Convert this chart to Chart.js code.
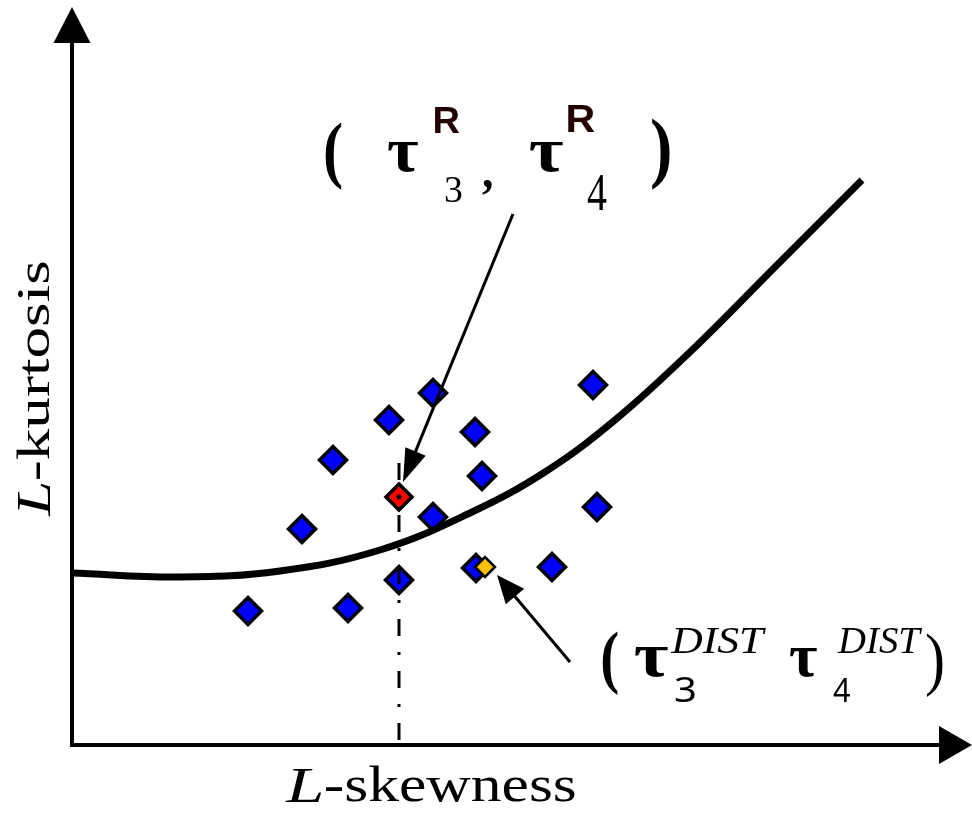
<!DOCTYPE html>
<html>
<head>
<meta charset="utf-8">
<script src="https://cdn.jsdelivr.net/npm/chart.js@4.4.1/dist/chart.umd.min.js"></script>
<style>
    html, body { margin: 0; padding: 0; background: #fff; }
    canvas { display: block; }
</style>
</head>
<body>
<canvas id="chart-lmoments" width="972" height="813"></canvas>
<script>
// sample L-moment ratios (schematic units, origin at the axes corner)
const sampleSkew = [17.6, 27.6, 32.7, 40.4, 48.0, 23.0, 36.1, 52.5, 26.1, 41.0, 31.7, 40.3, 36.1, 52.1];
const sampleKurt = [13.4, 13.7, 16.5, 17.7, 17.8, 21.6, 22.8, 23.8, 28.5, 26.9, 32.5, 31.3, 35.2, 36.0];
// regional average (tau3^R, tau4^R)
const regionalSkew = [32.7];
const regionalKurt = [24.8];
// candidate distribution point (tau3^DIST, tau4^DIST)
const distSkew = [41.3];
const distKurt = [17.8];
// theoretical L-skewness / L-kurtosis curve
const curveSkew = [0, 10.8, 20.8, 30.8, 39.8, 47.3, 54.3, 61.8, 70.3, 79.0];
const curveKurt = [17.2, 16.8, 17.4, 19.5, 23.2, 27.3, 32.5, 39.3, 47.8, 56.5];

const xTitle = ['L', '-skewness'];
const yTitle = ['L', '-kurtosis'];

const toPoints = (xs, ys) => xs.map((x, i) => ({ x: x, y: ys[i] }));

const colors = {
    ink: '#000',
    sample: '#0000ff',
    regional: '#ff0000',
    dist: '#ffc000',
    sup: '#220000'
};

const serif = '"Liberation Serif", "Times New Roman", serif';

// draw text so its ink fills the given box
function drawBox(ctx, text, font, x0, y0, x1, y1, color) {
    ctx.font = font;
    ctx.textAlign = 'left';
    ctx.textBaseline = 'alphabetic';
    const m = ctx.measureText(text);
    const w = m.actualBoundingBoxLeft + m.actualBoundingBoxRight;
    const h = m.actualBoundingBoxAscent + m.actualBoundingBoxDescent;
    ctx.save();
    ctx.fillStyle = color || colors.ink;
    ctx.translate(x0, y0);
    ctx.scale((x1 - x0) / w, (y1 - y0) / h);
    ctx.fillText(text, m.actualBoundingBoxLeft, m.actualBoundingBoxAscent);
    ctx.restore();
}

function arrow(ctx, x0, y0, x1, y1, headLen, headW, lineW) {
    const a = Math.atan2(y1 - y0, x1 - x0);
    const bx = x1 - Math.cos(a) * headLen;
    const by = y1 - Math.sin(a) * headLen;
    ctx.save();
    ctx.strokeStyle = colors.ink;
    ctx.fillStyle = colors.ink;
    ctx.lineWidth = lineW;
    ctx.beginPath();
    ctx.moveTo(x0, y0);
    ctx.lineTo(bx + Math.cos(a), by + Math.sin(a));
    ctx.stroke();
    ctx.beginPath();
    ctx.moveTo(x1, y1);
    ctx.lineTo(bx - Math.sin(a) * headW / 2, by + Math.cos(a) * headW / 2);
    ctx.lineTo(bx + Math.sin(a) * headW / 2, by - Math.cos(a) * headW / 2);
    ctx.closePath();
    ctx.fill();
    ctx.restore();
}

const axesPlugin = {
    id: 'axesArrows',
    beforeDatasetsDraw(chart) {
        const ctx = chart.ctx;
        const ox = chart.scales.x.getPixelForValue(0);
        const oy = chart.scales.y.getPixelForValue(0);
        arrow(ctx, ox, oy + 2, ox, 7, 36, 37, 4);
        arrow(ctx, ox - 2, oy, chart.width, oy, 33, 38, 4);
    },
    afterDraw(chart) {
        const ctx = chart.ctx;

        // center dot of the regional point
        const red = chart.getDatasetMeta(1).data[0];
        ctx.save();
        ctx.fillStyle = colors.ink;
        ctx.beginPath();
        ctx.arc(red.x, red.y, 2.5, 0, Math.PI * 2);
        ctx.fill();
        ctx.restore();

        // annotation arrows
        arrow(ctx, 513, 214, red.x + 4, red.y - 15, 33, 22, 3);
        const yel = chart.getDatasetMeta(0).data[0];
        arrow(ctx, 570, 662, yel.x + 12, yel.y + 8, 28, 24, 3);

        // ( tau3^R , tau4^R )
        const bold = 'bold 64px ' + serif;
        const regular = '40px ' + serif;
        const supFont = 'bold 32px "Liberation Sans", Arial, sans-serif';
        drawBox(ctx, '(', bold, 325, 122, 342, 190);
        drawBox(ctx, 'τ', bold, 388, 142, 418, 172);
        drawBox(ctx, 'R', supFont, 435, 108, 460, 133, colors.sup);
        drawBox(ctx, '3', regular, 445, 178, 462, 202);
        drawBox(ctx, ',', bold, 482, 180, 492, 195);
        drawBox(ctx, 'τ', bold, 530, 142, 563, 172);
        drawBox(ctx, 'R', supFont, 568, 105, 595, 132, colors.sup);
        drawBox(ctx, '4', regular, 587, 175, 607, 210);
        drawBox(ctx, ')', bold, 652, 118, 670, 190);

        // ( tau3^DIST tau4^DIST )
        const italic = 'italic 36px ' + serif;
        const digit = '36px "Noto Sans", sans-serif';
        drawBox(ctx, '(', bold, 602, 630, 618, 695);
        drawBox(ctx, 'τ', bold, 635, 647, 668, 677);
        drawBox(ctx, 'DIST', italic, 670, 628, 767, 653);
        drawBox(ctx, '3', digit, 675, 677, 695, 702);
        drawBox(ctx, 'τ', bold, 790, 648, 817, 677);
        drawBox(ctx, 'DIST', italic, 837, 628, 923, 653);
        drawBox(ctx, '4', digit, 833, 678, 850, 702);
        drawBox(ctx, ')', '64px ' + serif, 927, 633, 943, 697);

        // axis titles
        drawBox(ctx, xTitle[0], 'italic 50px ' + serif, 285, 768, 322, 802);
        drawBox(ctx, xTitle[1], '50px ' + serif, 325, 765, 575, 802);
        ctx.save();
        ctx.rotate(-Math.PI / 2);
        drawBox(ctx, yTitle[0], 'italic 50px ' + serif, -517, 18, -483, 50);
        drawBox(ctx, yTitle[1], '50px ' + serif, -480, 15, -262, 50);
        ctx.restore();
    }
};

const diamond = (color, radius, border) => ({
    type: 'scatter',
    pointStyle: 'rectRot',
    pointRadius: radius,
    pointHoverRadius: radius,
    backgroundColor: color,
    borderColor: colors.ink,
    borderWidth: border,
    pointBorderWidth: border
});

new Chart(document.getElementById('chart-lmoments'), {
    type: 'scatter',
    data: {
        datasets: [
            { ...diamond(colors.dist, 10, 2.5), label: 'DIST', data: toPoints(distSkew, distKurt) },
            { ...diamond(colors.regional, 13, 3.5), label: 'Regional', data: toPoints(regionalSkew, regionalKurt) },
            {
                type: 'line',
                label: 'Guide',
                data: [{ x: regionalSkew[0], y: 28.2 }, { x: regionalSkew[0], y: 0 }],
                borderColor: colors.ink,
                borderWidth: 3,
                borderDash: [17, 16, 3, 16],
                pointRadius: 0
            },
            {
                type: 'line',
                label: 'Curve',
                data: toPoints(curveSkew, curveKurt),
                borderColor: colors.ink,
                borderWidth: 7,
                tension: 0.4,
                pointRadius: 0,
                fill: false
            },
            { ...diamond(colors.sample, 13.5, 3.5), label: 'Sites', data: toPoints(sampleSkew, sampleKurt) }
        ]
    },
    options: {
        responsive: false,
        animation: false,
        layout: { padding: 0, autoPadding: false },
        scales: {
            x: { type: 'linear', min: -7.2, max: 90, display: false },
            y: { type: 'linear', min: -6.8, max: 74.5, display: false }
        },
        plugins: {
            legend: { display: false },
            tooltip: { enabled: false }
        }
    },
    plugins: [axesPlugin]
});
</script>
</body>
</html>
